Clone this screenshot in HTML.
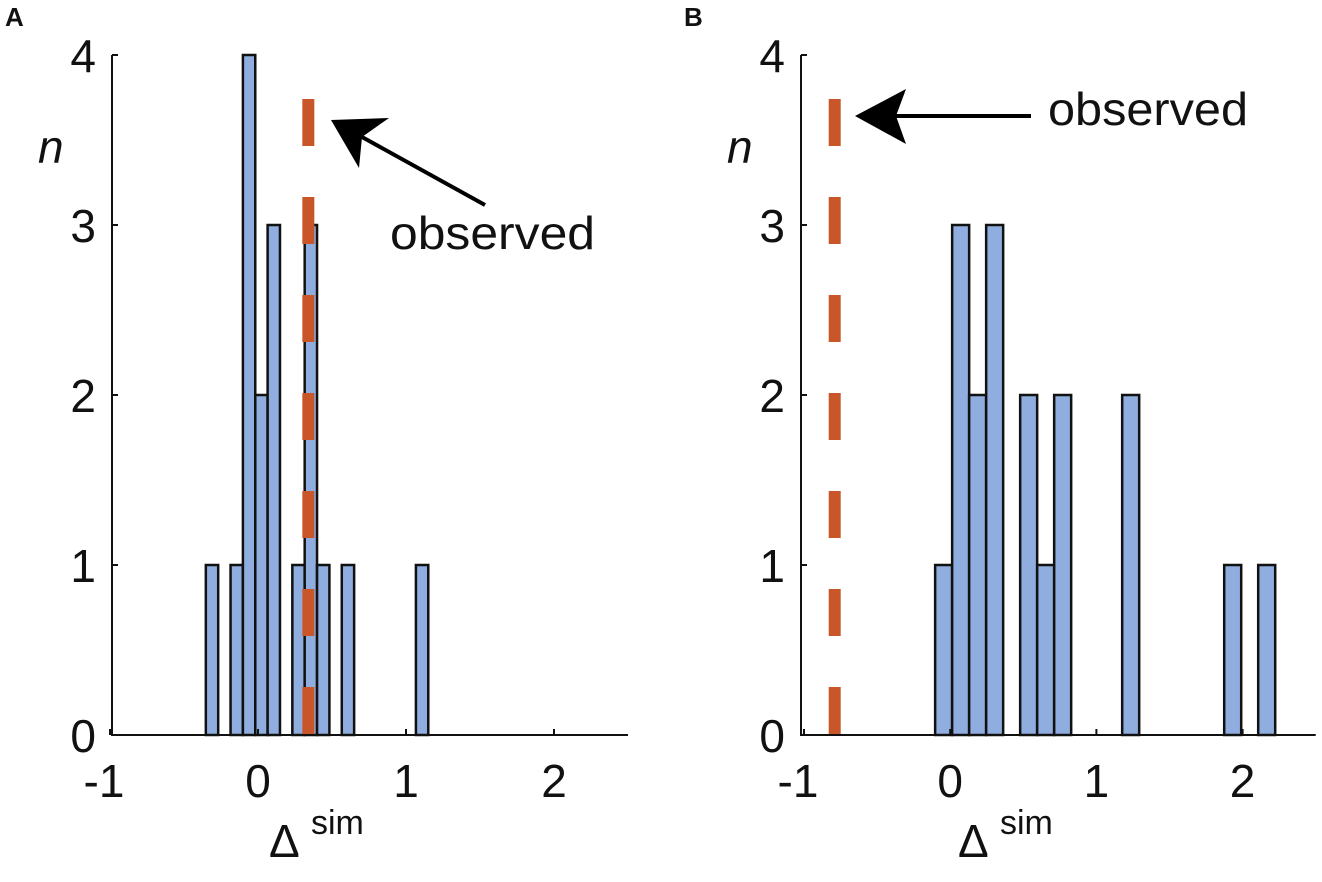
<!DOCTYPE html>
<html><head><meta charset="utf-8"><style>
html,body{margin:0;padding:0;background:#fff}
svg{display:block}
text{font-family:"Liberation Sans",Arial,sans-serif;fill:#111}
</style></head><body>
<svg id="fig" width="1322" height="882" viewBox="0 0 1322 882" xmlns="http://www.w3.org/2000/svg">
<text x="5" y="26" font-size="26" font-weight="bold">A</text>
<text x="684" y="26" font-size="26" font-weight="bold">B</text>
<g id="pa"></g>
<g id="pb"></g>
</svg>
<script>
// Panel A data
const aBinStart = -0.3525;
const aBinWidth = 0.0835;
const aCounts = [1,0,1,4,2,3,0,1,3,1,0,1,0,0,0,0,0,1];
const aObserved = 0.34;
// Panel B data
const bBinStart = -0.103;
const bBinWidth = 0.1163;
const bCounts = [1,3,2,3,0,2,1,2,0,0,0,2,0,0,0,0,0,1,0,1];
const bObserved = -0.79;
// Axis ticks
const xTicks = [-1,0,1,2];
const xTickLabels = ["-1","0","1","2"];
const yTicks = [0,1,2,3,4];
const yTickLabels = ["0","1","2","3","4"];

const NS="http://www.w3.org/2000/svg";
function mk(parent,tag,attrs){const e=document.createElementNS(NS,tag);for(const k in attrs)e.setAttribute(k,attrs[k]);parent.appendChild(e);return e;}

function drawPanel(g, cfg, binStart, binWidth, counts, observed){
  const sx=v=>cfg.xm1+(v+1)*cfg.unit;
  const sy=v=>735-v*170;
  counts.forEach((c,i)=>{
    if(c<=0)return;
    const x0=sx(binStart+i*binWidth), x1=sx(binStart+(i+1)*binWidth);
    const r=mk(g,'rect',{x:x0,y:sy(c),width:x1-x0,height:sy(0)-sy(c),fill:'#8fadde',stroke:'#111','stroke-width':2.5});
    
    
  });
  const ax=mk(g,'path',{d:`M${cfg.axisX} ${sy(4)} L${cfg.axisX} ${sy(0)} L${sx(2.5)} ${sy(0)}`,fill:'none',stroke:'#111','stroke-width':2});
  
  
  yTicks.forEach((t,i)=>{
    const tk=mk(g,'line',{x1:cfg.axisX,x2:cfg.axisX+6,y1:sy(t),y2:sy(t),stroke:'#111','stroke-width':2});
    
    
    const tl=mk(g,'text',{x:cfg.axisX-16,y:sy(t)+17,'font-size':46,'text-anchor':'end'});
    tl.textContent=yTickLabels[i];
    
    
  });
  xTicks.forEach((t,i)=>{
    const tk=mk(g,'line',{x1:sx(t),x2:sx(t),y1:sy(0),y2:sy(0)-6,stroke:'#111','stroke-width':2});
    
    
    const tl=mk(g,'text',{x:sx(t)-(t<0?6:0),y:797,'font-size':46,'text-anchor':'middle'});
    tl.textContent=xTickLabels[i];
    
    
  });
  const ol=mk(g,'line',{x1:sx(observed),x2:sx(observed),y1:99,y2:735,stroke:'#c85628','stroke-width':12,'stroke-dasharray':'47 51'});
  
  
  const yl=mk(g,'text',{x:cfg.axisX-74,y:163,'font-size':46,'font-style':'italic'});
  yl.textContent='n';
  
  
  const xl=mk(g,'text',{x:cfg.axisX+157,y:857,'font-size':46});
  xl.textContent='Δ';
  
  
  const xs=mk(g,'text',{x:cfg.axisX+199,y:834,'font-size':34});
  xs.textContent='sim';
  
  
  const a=cfg.arrow;
  const al=mk(g,'line',{x1:a.tail[0],y1:a.tail[1],x2:a.notch[0],y2:a.notch[1],stroke:'#000','stroke-width':4});
  
  
  const ah=mk(g,'polygon',{points:[a.tip,a.b1,a.notch,a.b2].map(p=>p.join(',')).join(' '),fill:'#000'});
  
  
  const ot=mk(g,'text',{x:cfg.textX,y:cfg.textY,'font-size':46,textLength:cfg.textLen,lengthAdjust:'spacingAndGlyphs'});
  ot.textContent='observed';
  
  
}

drawPanel(document.getElementById('pa'),
  {xm1:110,unit:148,axisX:112,textX:390,textY:249,textLen:205,
   arrow:{tip:[331,120],b1:[389,118],b2:[359,168],notch:[362,137],tail:[485,205]}},
  aBinStart,aBinWidth,aCounts,aObserved);
drawPanel(document.getElementById('pb'),
  {xm1:804,unit:146.2,axisX:801,textX:1048,textY:125,textLen:200,
   arrow:{tip:[855,116],b1:[906,89],b2:[906,144],notch:[896,116],tail:[1031,116]}},
  bBinStart,bBinWidth,bCounts,bObserved);
</script>
</body></html>
